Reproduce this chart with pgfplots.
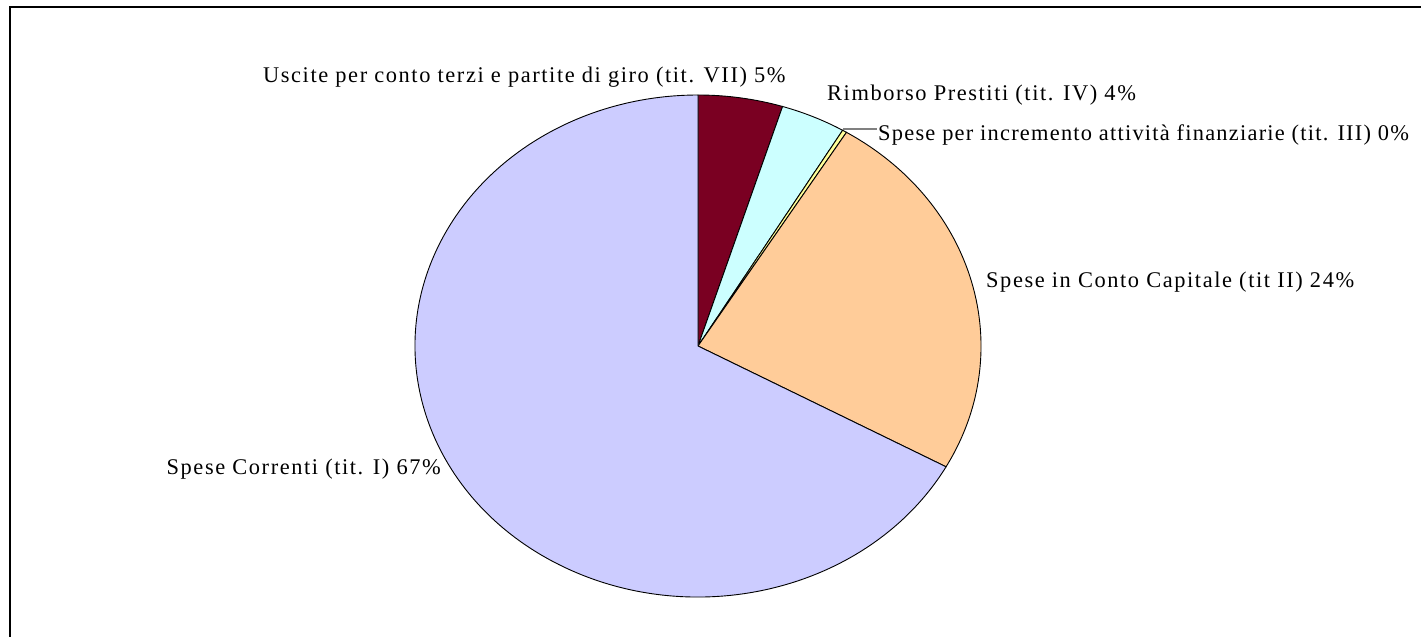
\documentclass[border=0pt]{standalone}
\usepackage{fontspec}
\setmainfont{Liberation Serif}[LetterSpace=7]
\usepackage{pgfplots}
\usepackage{pgfplotstable}
\pgfplotsset{compat=1.18}

\definecolor{cUsc}{HTML}{7A0022}
\definecolor{cRim}{HTML}{CCFFFF}
\definecolor{cInc}{HTML}{FFFF99}
\definecolor{cCap}{HTML}{FFCC99}
\definecolor{cCor}{HTML}{CCCCFF}
\definecolor{leader}{HTML}{808080}

\newcommand\lbl{\fontsize{22.5}{27}\selectfont}

% shares in percent, clockwise from 12 o'clock
\pgfplotstableread[col sep=comma]{
slice,value,col
Uscite,4.83,cUsc
Rimborso,3.71,cRim
Incremento,0.25,cInc
Capitale,24.20,cCap
Correnti,67.01,cCor
}\pietable
\pgfplotstablecreatecol[create col/expr accum={\pgfmathaccuma+\thisrow{value}}{0}]{cum}\pietable

\begin{document}
\begin{tikzpicture}
\begin{axis}[
	at={(0,0)}, anchor=south west,
	width=1421bp, height=637bp, scale only axis,
	xmin=0, xmax=1421, ymin=0, ymax=637,
	y dir=reverse,
	hide axis, clip=false,
]
	\pgfplotsinvokeforeach{0,...,4}{%
		\pgfplotstablegetelem{#1}{value}\of\pietable \let\pieV\pgfplotsretval
		\pgfplotstablegetelem{#1}{cum}\of\pietable \let\pieC\pgfplotsretval
		\pgfplotstablegetelem{#1}{col}\of\pietable \let\pieF\pgfplotsretval
		\pgfmathsetmacro\pieA{90-3.6*(\pieC-\pieV)}
		\pgfmathsetmacro\pieB{90-3.6*\pieC}
		\edef\pietemp{\noexpand\filldraw[fill=\pieF, draw=black, line width=0.9bp]
			(axis cs:698,346) -- ++(\pieA:283bp and 251bp)
			arc[start angle=\pieA, end angle=\pieB, x radius=283bp, y radius=251bp] -- cycle;}
		\pietemp
	}

	% chart area frame (only top and left edges fall inside the picture)
	\draw[line width=1.5bp] (axis cs:10,637) -- (axis cs:10,7) -- (axis cs:1421,7);

	% leader for the tiny slice
	\draw[leader, line width=1.3bp] (axis cs:843,129) -- (axis cs:877,129);

	\node[anchor=base west, inner sep=0pt] at (axis cs:263,83) {\lbl Uscite per conto terzi e partite di giro (tit. VII) 5\%};
	\node[anchor=base west, inner sep=0pt] at (axis cs:827,100) {\lbl Rimborso Prestiti (tit. IV) 4\%};
	\node[anchor=base west, inner sep=0pt] at (axis cs:878,140) {\lbl\addfontfeatures{LetterSpace=5.5}Spese per incremento attività finanziarie (tit. III) 0\%};
	\node[anchor=base west, inner sep=0pt] at (axis cs:986,287) {\lbl Spese in Conto Capitale (tit II) 24\%};
	\node[anchor=base east, inner sep=0pt] at (axis cs:441,474) {\lbl Spese Correnti (tit. I) 67\%};
\end{axis}
\pgfresetboundingbox
\path (0,0) rectangle (1421bp,637bp);
\end{tikzpicture}
\end{document}
